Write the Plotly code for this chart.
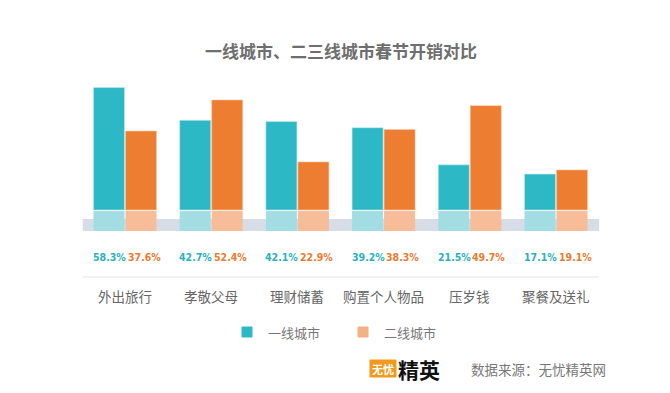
import plotly.graph_objects as go

categories = ["外出旅行", "孝敬父母", "理财储蓄", "购置个人物品", "压岁钱", "聚餐及送礼"]
tier1 = [58.3, 42.7, 42.1, 39.2, 21.5, 17.1]
tier23 = [37.6, 52.4, 22.9, 38.3, 49.7, 19.1]
series_names = ["一线城市", "二线城市"]
title_text = "一线城市、二三线城市春节开销对比"
source_text = "数据来源：无忧精英网"

OFF = 8  # page body margin
W, H = 670 - OFF, 393 - OFF
TEAL, ORANGE = "#2DB8C5", "#ED7D31"
TEAL_L, ORANGE_L = "#A2DDE3", "#F7BD98"
PLATE = 9.5  # decorative light plate under each bar (value units)

def px(x):
    return (x - OFF) / W

def py(y):
    return 1 - (y - OFF) / H

fig = go.Figure()
fig.add_bar(x=categories, y=tier1, name=series_names[0], marker=dict(color=TEAL, line=dict(color="#BFE9EE", width=0.6)),
            offsetgroup="a", showlegend=False)
fig.add_bar(x=categories, y=tier23, name=series_names[1], marker=dict(color=ORANGE, line=dict(color="#F8C9A8", width=0.6)),
            offsetgroup="b", showlegend=False)
fig.add_bar(x=categories, y=[PLATE] * len(categories), base=-10, marker=dict(color=TEAL_L, line=dict(width=0)),
            offsetgroup="a", showlegend=False, hoverinfo="skip")
fig.add_bar(x=categories, y=[PLATE] * len(categories), base=-10, marker=dict(color=ORANGE_L, line=dict(width=0)),
            offsetgroup="b", showlegend=False, hoverinfo="skip")

shapes = [
    dict(type="rect", xref="x", yref="y", x0=-0.49, x1=5.5, y0=-10, y1=-4.3,
         fillcolor="#D6DDE6", line=dict(width=0), layer="below"),
    dict(type="line", xref="x", yref="y", x0=-0.49, x1=5.5, y0=-31.9, y1=-31.9,
         line=dict(color="#E4E4E4", width=1)),
    # legend markers
    dict(type="rect", xref="paper", yref="paper", x0=px(242), x1=px(252), y0=py(337), y1=py(327),
         fillcolor=TEAL, line=dict(color=TEAL, width=1)),
    dict(type="rect", xref="paper", yref="paper", x0=px(358), x1=px(368), y0=py(337), y1=py(327),
         fillcolor="#F4B183", line=dict(color="#F4B183", width=1)),
    # logo box
    dict(type="rect", xref="paper", yref="paper", x0=px(370), x1=px(396), y0=py(377), y1=py(360),
         fillcolor="#F39A1E", line=dict(color="#F39A1E", width=1)),
]

annotations = []
pct_font = "DejaVu Sans Condensed, Liberation Sans Narrow, sans-serif"
for c, a, b in zip(categories, tier1, tier23):
    annotations.append(dict(x=c, y=-22.4, xref="x", yref="y", text=f"<b>{a}%</b>", showarrow=False,
                            xanchor="center", yanchor="middle",
                            xshift=-15.5, font=dict(family=pct_font, size=10.5, color="#2AB1C0")))
    annotations.append(dict(x=c, y=-22.4, xref="x", yref="y", text=f"<b>{b}%</b>", showarrow=False,
                            xanchor="center", yanchor="middle",
                            xshift=19, font=dict(family=pct_font, size=10.5, color="#EE7A30")))
    annotations.append(dict(x=c, y=-41, xref="x", yref="y", text=c, showarrow=False,
                            xanchor="center", yanchor="middle",
                            font=dict(family="Noto Sans CJK SC", size=13.5, color="#666666")))

def pann(x, y, text, size, color, xanchor="center", bold=False):
    return dict(x=px(x), y=py(y), xref="paper", yref="paper", xanchor=xanchor, yanchor="middle",
                text=f"<b>{text}</b>" if bold else text, showarrow=False,
                font=dict(family="Noto Sans CJK SC", size=size, color=color))

annotations += [
    pann(341, 50, title_text, 17, "#6E6E6E", bold=True),
    pann(266, 332, series_names[0], 13, "#777777", xanchor="left"),
    pann(382, 332, series_names[1], 13, "#777777", xanchor="left"),
    pann(383, 368.5, "无忧", 11, "white", bold=True),
    pann(396, 369, "精英", 21, "#111111", xanchor="left", bold=True),
    pann(469, 369, source_text, 13.5, "#777777", xanchor="left"),
]

fig.update_layout(
    width=W, height=H,
    margin=dict(l=0, r=0, t=0, b=0),
    paper_bgcolor="white", plot_bgcolor="white",
    barmode="group", bargap=0.2575, bargroupgap=0.03,
    xaxis=dict(range=[(OFF - 125) / 86.2, (670 - 125) / 86.2], showticklabels=False, showgrid=False,
               zeroline=False, showline=False, fixedrange=True),
    yaxis=dict(range=[-87.143, (210 - OFF) / 2.1], showticklabels=False, showgrid=False, zeroline=False,
               showline=False, fixedrange=True),
    shapes=shapes, annotations=annotations, showlegend=False,
)

fig.write_html("out.html")
